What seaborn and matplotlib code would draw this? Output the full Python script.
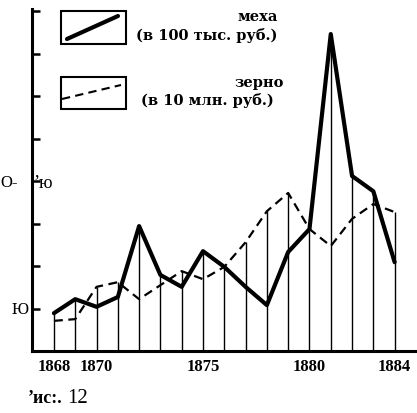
import numpy as np
import pandas as pd
import matplotlib
matplotlib.use("Agg")
import matplotlib.pyplot as plt
import seaborn as sns
from matplotlib.lines import Line2D
from matplotlib.patches import Rectangle

years = list(range(1868, 1885))
furs = [8.9, 12.2, 10.4, 12.7, 29.4, 17.9, 15.1, 23.5, 19.8, 15.1, 10.8, 23.3, 28.7, 74.6, 41.2, 37.6, 20.9]
grain = [7.1, 7.5, 15.1, 16.2, 12.2, 15.5, 18.8, 16.9, 19.8, 25.6, 32.9, 37.2, 28.7, 24.7, 31.1, 34.6, 32.7]
xtick_years = [1868, 1870, 1875, 1880, 1884]
ytick_vals = [10, 20, 30, 40, 50, 60, 70, 80]

df = pd.DataFrame({"year": years, "furs": furs, "grain": grain})
df["top"] = df[["furs", "grain"]].max(axis=1)

sns.set_style("white")
plt.rcParams["font.family"] = ["Liberation Serif", "DejaVu Serif"]
plt.rcParams["text.color"] = "black"
plt.rcParams["xtick.color"] = "black"
plt.rcParams["ytick.color"] = "black"
plt.rcParams["axes.labelcolor"] = "black"

W, H = 417, 414
fig = plt.figure(figsize=(W / 100, H / 100), dpi=100)
ax = fig.add_axes([32 / W, 1 - 352 / H, (W - 32) / W, (352 - 10) / H])

ax.vlines(df["year"], 0, df["top"], color="black", lw=1.0)
sns.lineplot(data=df, x="year", y="grain", ax=ax, color="black", lw=1.6,
             linestyle=(0, (4, 2.5)))
sns.lineplot(data=df, x="year", y="furs", ax=ax, color="black", lw=3.0)

ax.set_xlim(1866.97, 1885.05)
ax.set_ylim(0, 80.5)
ax.set_xlabel("")
ax.set_ylabel("")
for s in ["top", "right"]:
    ax.spines[s].set_visible(False)
ax.spines["left"].set_linewidth(2.2)
ax.spines["bottom"].set_linewidth(2.2)
ax.spines["left"].set_color("black")
ax.spines["bottom"].set_color("black")
ax.set_xticks(xtick_years)
ax.set_xticklabels([str(y) for y in xtick_years], fontsize=12, fontweight="bold", color="black")
ax.tick_params(axis="x", length=0, pad=5)
ax.set_yticks(ytick_vals)
ax.set_yticklabels([])
ax.tick_params(axis="y", left=True, direction="in", length=6, width=1.8, color="black")

def fx(x):
    return x / W

def fy(y):
    return 1 - y / H

# y labels as in the scan
fig.text(fx(29), fy(310), "Ю", ha="right", va="center", fontsize=12, color="black")
fig.text(fx(0), fy(183), "О-", ha="left", va="center", fontsize=12, color="black")
fig.text(fx(33), fy(184), "ʼю", ha="left", va="center", fontsize=13, color="black")

# legend boxes
for (y0, y1) in [(12, 45), (78, 110)]:
    fig.patches.append(Rectangle((fx(61), fy(y1)), fx(126) - fx(61), fy(y0) - fy(y1),
                                 transform=fig.transFigure, fill=False,
                                 edgecolor="black", lw=1.5))
fig.lines.append(Line2D([fx(67), fx(118)], [fy(40), fy(17)], transform=fig.transFigure,
                        color="black", lw=3.0))
fig.lines.append(Line2D([fx(62), fx(121)], [fy(100), fy(86)], transform=fig.transFigure,
                        color="black", lw=1.5, linestyle=(0, (4, 2.5))))

lf = dict(fontsize=10.5, fontweight="bold", family=["DejaVu Serif"], color="black")
fig.text(fx(258), fy(17), "меха", ha="center", va="center", **lf)
fig.text(fx(207), fy(36), "(в 100 тыс. руб.)", ha="center", va="center", **lf)
fig.text(fx(259), fy(83), "зерно", ha="center", va="center", **lf)
fig.text(fx(207), fy(101), "(в 10 млн. руб.)", ha="center", va="center", **lf)

# caption
fig.text(fx(28), fy(399), "ʼис:.", ha="left", va="center", fontsize=13, fontweight="bold", color="black")
fig.text(fx(67), fy(399), "12", ha="left", va="center", fontsize=15, color="black")

fig.savefig("out.png", dpi=100, facecolor="white")
